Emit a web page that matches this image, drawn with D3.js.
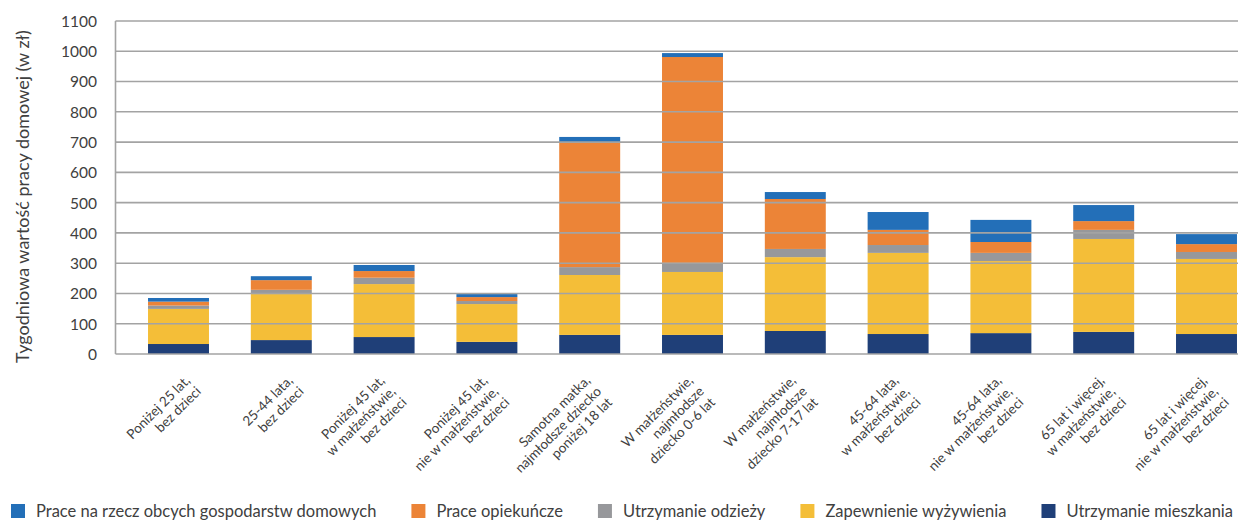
<!DOCTYPE html>
<html>
<head>
<meta charset="utf-8">
<script src="https://cdn.jsdelivr.net/npm/d3@7"></script>
<style>
  html, body { margin: 0; padding: 0; background: #fff; }
  svg { display: block; }
  text { font-family: Lato, "Open Sans", sans-serif; fill: #404040; }
</style>
</head>
<body>
<svg id="chart" width="1238" height="520"></svg>
<script>
const categories = [
  ["Poniżej 25 lat,", "bez dzieci"],
  ["25-44 lata,", "bez dzieci"],
  ["Poniżej 45 lat,", "w małżeństwie,", "bez dzieci"],
  ["Poniżej 45 lat,", "nie w małżeństwie,", "bez dzieci"],
  ["Samotna matka,", "najmłodsze dziecko", "poniżej 18 lat"],
  ["W małżeństwie,", "najmłodsze", "dziecko 0-6 lat"],
  ["W małżeństwie,", "najmłodsze", "dziecko 7-17 lat"],
  ["45-64 lata,", "w małżeństwie,", "bez dzieci"],
  ["45-64 lata,", "nie w małżeństwie,", "bez dzieci"],
  ["65 lat i więcej,", "w małżeństwie,", "bez dzieci"],
  ["65 lat i więcej,", "nie w małżeństwie,", "bez dzieci"]
];
const utrzymanieMieszkania = [33, 46, 56, 40, 63, 63, 76, 66, 69, 73, 66];
const zapewnienieWyzywienia = [116, 152, 175, 125, 198, 208, 244, 268, 238, 307, 248];
const utrzymanieOdziezy = [11, 14, 21, 10, 26, 30, 27, 26, 27, 30, 23];
const praceOpiekuncze = [13, 32, 22, 13, 413, 680, 165, 50, 36, 29, 26];
const praceObce = [12, 13, 20, 10, 17, 13, 23, 59, 73, 53, 33];
const yTicks = [0, 100, 200, 300, 400, 500, 600, 700, 800, 900, 1000, 1100];
const yTitle = "Tygodniowa wartość pracy domowej (w zł)";

// series bottom -> top
const seriesNames = ["Utrzymanie mieszkania", "Zapewnienie wyżywienia", "Utrzymanie odzieży", "Prace opiekuńcze", "Prace na rzecz obcych gospodarstw domowych"];
const seriesValues = [utrzymanieMieszkania, zapewnienieWyzywienia, utrzymanieOdziezy, praceOpiekuncze, praceObce];
const seriesColors = ["#1F3F78", "#F4BE38", "#97989B", "#EC8437", "#236FB8"];
const legendOrder = [4, 3, 2, 1, 0];

const svg = d3.select("#chart");
const keys = categories.map((c, i) => "c" + i);
const table = keys.map((k, i) => {
  const row = { key: k };
  seriesNames.forEach((s, j) => row[s] = seriesValues[j][i]);
  return row;
});

const plotLeft = 115.5, plotRight = 1238, plotTop = 21, plotBottom = 354;
const y = d3.scaleLinear().domain([0, 1100]).range([plotBottom, plotTop]);
const x = d3.scaleBand().domain(keys).range([127.1, 1257.9]).paddingInner(0.407).paddingOuter(0.2035);
const color = d3.scaleOrdinal().domain(seriesNames).range(seriesColors);

const stacked = d3.stack().keys(seriesNames)(table);

// bars
svg.append("g").selectAll("g").data(stacked).join("g")
  .attr("fill", d => color(d.key))
  .selectAll("rect").data(d => d).join("rect")
  .attr("x", d => x(d.data.key))
  .attr("width", x.bandwidth())
  .attr("y", d => y(d[1]))
  .attr("height", d => y(d[0]) - y(d[1]));

// gridlines (drawn over bars)
const grid = svg.append("g");
grid.selectAll("line").data(yTicks).join("line")
  .attr("x1", plotLeft).attr("x2", plotRight)
  .attr("y1", d => y(d)).attr("y2", d => y(d))
  .attr("stroke", "#a3a3a3").attr("stroke-width", 1.6);
svg.append("line")
  .attr("x1", plotLeft).attr("x2", plotLeft)
  .attr("y1", y(1100)).attr("y2", y(0))
  .attr("stroke", "#a3a3a3").attr("stroke-width", 1.6);

// y axis labels
const yAxis = d3.axisLeft(y).tickValues(yTicks).tickFormat(d3.format("d")).tickSize(0).tickPadding(0);
const yg = svg.append("g").attr("transform", "translate(97,0)").call(yAxis);
yg.select(".domain").remove();
yg.selectAll("text").style("font-family", "Lato, 'Open Sans', sans-serif").style("font-size", "15.5px").attr("fill", "#404040").attr("dy", "0.35em");

// y title
svg.append("text")
  .attr("transform", `translate(23,${(plotTop + 372) / 2}) rotate(-90)`)
  .attr("text-anchor", "middle")
  .attr("dy", "0.35em")
  .style("font-size", "18px")
  .text(yTitle);

// x labels: block's top-right corner anchored near the category
const lh = 15.5;
const diag = Math.SQRT1_2;
const xl = svg.append("g");
categories.forEach((lines, i) => {
  const cx = x(keys[i]) + x.bandwidth() / 2;
  const n = lines.length;
  const x0 = cx + 20 - (n - 1) * lh * diag;
  const g = xl.append("g").attr("transform", `translate(${x0},${plotBottom + 24}) rotate(-45)`);
  lines.forEach((ln, j) => {
    g.append("text")
      .attr("text-anchor", "end")
      .attr("x", 0)
      .attr("y", j * lh)
      .attr("dy", "0.35em")
      .style("font-size", "13.5px")
      .text(ln);
  });
});

// legend
const lg = svg.append("g").attr("transform", "translate(0,511)");
const items = legendOrder.map(idx => ({ name: seriesNames[idx], color: seriesColors[idx] }));
const itemG = lg.selectAll("g").data(items).join("g");
itemG.append("rect").attr("x", 0).attr("y", -7).attr("width", 14).attr("height", 14).attr("fill", d => d.color);
itemG.append("text").attr("x", 25).attr("y", 0).attr("dy", "0.35em").style("font-size", "16.5px").text(d => d.name);
const widths = [];
itemG.each(function() { widths.push(25 + d3.select(this).select("text").node().getComputedTextLength()); });
const startX = 11, endX = 1233;
const totalW = d3.sum(widths);
const gap = (endX - startX - totalW) / (items.length - 1);
let cur = startX;
itemG.attr("transform", (d, i) => { const t = `translate(${cur},0)`; cur += widths[i] + gap; return t; });
</script>
</body>
</html>
